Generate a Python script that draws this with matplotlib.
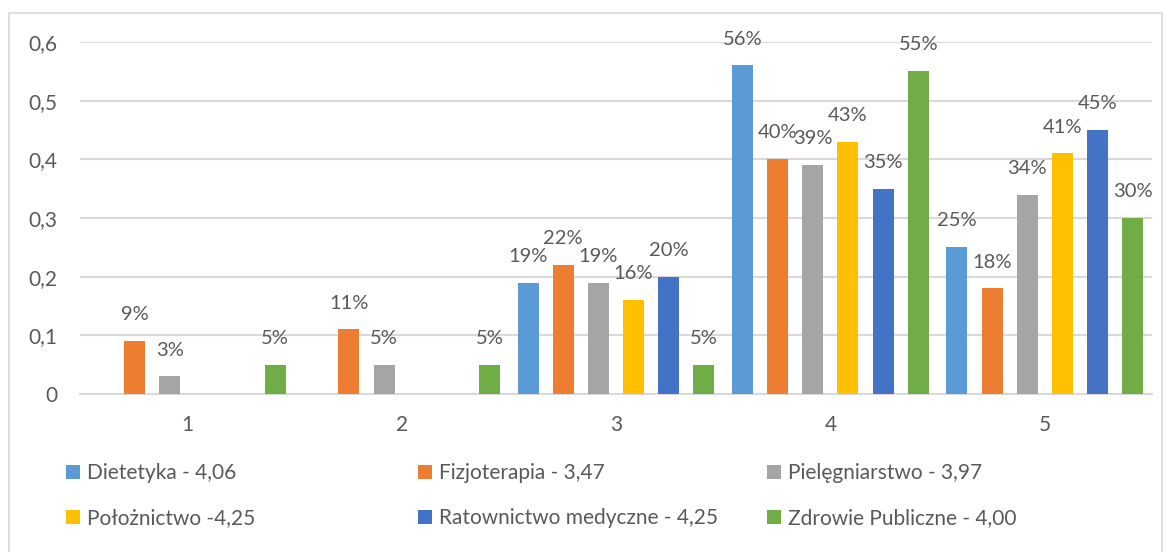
import matplotlib
matplotlib.use("Agg")
import matplotlib.pyplot as plt
from matplotlib.patches import Patch, Rectangle
from matplotlib.ticker import FuncFormatter
import numpy as np

categories = ["1", "2", "3", "4", "5"]
series_names = [
    "Dietetyka - 4,06",
    "Fizjoterapia - 3,47",
    "Pielęgniarstwo - 3,97",
    "Położnictwo -4,25",
    "Ratownictwo medyczne - 4,25",
    "Zdrowie Publiczne - 4,00",
]
dietetyka = [0, 0, 0.19, 0.56, 0.25]
fizjoterapia = [0.09, 0.11, 0.22, 0.40, 0.18]
pielegniarstwo = [0.03, 0.05, 0.19, 0.39, 0.34]
poloznictwo = [0, 0, 0.16, 0.43, 0.41]
ratownictwo = [0, 0, 0.20, 0.35, 0.45]
zdrowie = [0.05, 0.05, 0.05, 0.55, 0.30]
series_values = [dietetyka, fizjoterapia, pielegniarstwo, poloznictwo, ratownictwo, zdrowie]
colors = ["#5B9BD5", "#ED7D31", "#A5A5A5", "#FFC000", "#4472C4", "#70AD47"]

text_color = "#595959"
grid_color = "#D9D9D9"
plt.rcParams["font.family"] = ["Lato", "DejaVu Sans"]

W, H = 1171, 552
fig = plt.figure(figsize=(W / 100, H / 100), dpi=100)
fig.patch.set_facecolor("white")

# outer chart border (bottom edge runs off the picture, as in the original)
fig.patches.append(Rectangle((9 / W, 1 - 560 / H), (1162 - 9) / W, (560 - 13) / H,
                             transform=fig.transFigure, fill=False,
                             edgecolor=grid_color, linewidth=1.2))

ax = fig.add_axes([80 / W, 1 - 394 / H, (1152 - 80) / W, (394 - 42) / H])
x = np.arange(len(categories))
step = 0.164
width = 0.098
for i, (vals, col) in enumerate(zip(series_values, colors)):
    pos = x + (i - 2.5) * step
    v = np.array(vals, dtype=float)
    mask = v > 0
    ax.bar(pos[mask], v[mask], width=width, color=col, zorder=3)
    for px, val in zip(pos[mask], v[mask]):
        ax.annotate(f"{int(round(val * 100))}%", (px, val), xytext=(0, 19),
                    textcoords="offset points", ha="center", va="center",
                    fontsize=14.5, color=text_color)

ax.set_xlim(-0.5, 4.5)
ax.set_ylim(0, 0.6)
ax.set_yticks(np.arange(0, 0.61, 0.1))
ax.yaxis.set_major_formatter(FuncFormatter(
    lambda v, p: "0" if abs(v) < 1e-9 else f"{v:.1f}".replace(".", ",")))
ax.set_xticks(x)
ax.set_xticklabels(categories)
ax.tick_params(axis="both", length=0, labelsize=15, colors=text_color)
ax.tick_params(axis="y", pad=16)
ax.tick_params(axis="x", pad=15)
ax.grid(axis="y", color=grid_color, linewidth=1.5, zorder=0)
for s in ["top", "right", "left"]:
    ax.spines[s].set_visible(False)
ax.spines["bottom"].set_color(grid_color)
ax.spines["bottom"].set_linewidth(1.5)
ax.set_axisbelow(True)

# legend: three columns, two rows
col_x = [66, 418, 767]
for c in range(3):
    handles = [Patch(facecolor=colors[c], label=series_names[c]),
               Patch(facecolor=colors[c + 3], label=series_names[c + 3])]
    fig.legend(handles=handles, loc="upper left",
               bbox_to_anchor=(col_x[c] / W, 1 - 463 / H), frameon=False,
               fontsize=15, labelcolor=text_color, handlelength=0.65,
               handleheight=0.65, handletextpad=0.35, labelspacing=1.2,
               borderaxespad=0, borderpad=0)

fig.savefig("out.png", dpi=100, facecolor="white")
